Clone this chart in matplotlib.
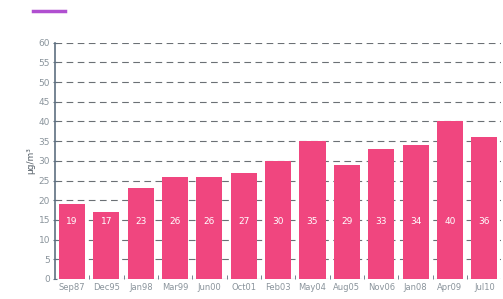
import numpy as np
import matplotlib.pyplot as plt

categories = ['Sep87', 'Dec95', 'Jan98', 'Mar99', 'Jun00', 'Oct01', 'Feb03',
              'May04', 'Aug05', 'Nov06', 'Jan08', 'Apr09', 'Jul10']
values = [19, 17, 23, 26, 26, 27, 30, 35, 29, 33, 34, 40, 36]
yticks = list(range(0, 65, 5))

bar_color = '#f0467f'
axis_color = '#5f7080'
text_color = '#8a949c'

fig = plt.figure(figsize=(5.03, 2.99), dpi=100)
ax = fig.add_axes([0.109, 0.067, 0.888, 0.79])

x = np.arange(len(categories))
bars = ax.bar(x, values, width=0.76, color=bar_color, zorder=2)

# value labels sit at a fixed height inside each bar
for xi, v in zip(x, values):
    ax.text(xi, 14.5, str(v), ha='center', va='center', color='white',
            fontsize=6.5, zorder=3)

ax.set_ylim(0, 60)
ax.set_xlim(-0.5, len(categories) - 0.5)
ax.set_yticks(yticks)
ax.set_yticklabels([str(t) for t in yticks], fontsize=6.5, color=text_color)
ax.set_xticks(x)
ax.set_xticklabels(categories, fontsize=6, color=text_color)
ax.set_xticks(x[:-1] + 0.5, minor=True)
ax.tick_params(axis='x', which='major', length=0, pad=3)
ax.tick_params(axis='x', which='minor', length=3, direction='in', color=axis_color)
ax.tick_params(axis='y', length=3, direction='inout', color=axis_color, pad=2)

ax.grid(True, axis='y', linestyle=(0, (6, 4)), color='#6b7075', linewidth=0.8, zorder=0)

for side in ['top', 'right', 'bottom']:
    ax.spines[side].set_visible(False)
ax.spines['left'].set_color(axis_color)
ax.spines['left'].set_linewidth(1.2)

ax.set_ylabel('µg/m³', fontsize=6.5, color='#555f68', labelpad=2)

# small legend swatch at top left
fig.add_artist(plt.Line2D([0.065, 0.13], [0.962, 0.962], color='#b04fd0',
                          linewidth=2.5, transform=fig.transFigure))

fig.savefig('out.png', dpi=100)
